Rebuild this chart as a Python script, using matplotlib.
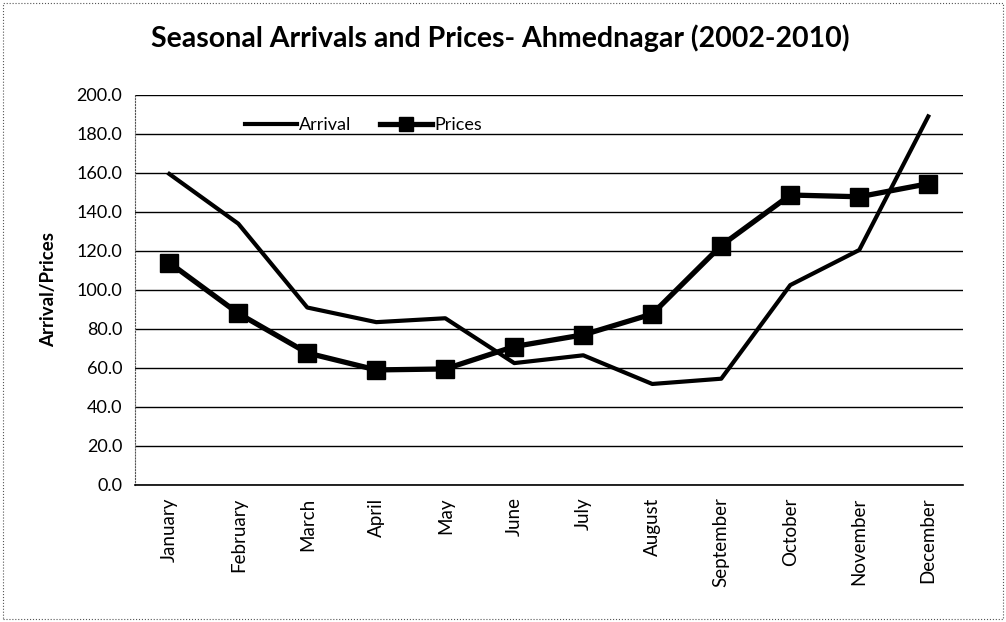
import matplotlib
matplotlib.use("Agg")
import matplotlib.pyplot as plt
from matplotlib.patches import Rectangle

months = ["January", "February", "March", "April", "May", "June", "July",
          "August", "September", "October", "November", "December"]
arrival = [159.5, 134, 91, 83.5, 85.5, 62.5, 66.5, 51.8, 54.5, 102.5, 120.5, 189]
prices = [114, 88, 67.7, 59, 59.5, 71, 77, 87.7, 122.8, 148.7, 147.8, 154.5]
yticks = [0, 20, 40, 60, 80, 100, 120, 140, 160, 180, 200]

plt.rcParams['font.family'] = ['Lato', 'DejaVu Sans']

fig = plt.figure(figsize=(10.06, 6.22), dpi=100)
ax = fig.add_axes([0.134, 0.2203, 0.823, 0.627])

x = list(range(len(months)))
ax.plot(x, arrival, color='black', lw=3.0, label='Arrival')
ax.plot(x, prices, color='black', lw=3.8, marker='s', markersize=13, label='Prices')

ax.set_xlim(-0.5, len(months) - 0.5)
ax.set_ylim(0, 200)
ax.set_yticks(yticks)
ax.set_yticklabels([f"{v:.1f}" for v in yticks], fontsize=13)
ax.set_xticks(x)
ax.set_xticklabels(months, rotation=90, fontsize=13.5)
ax.tick_params(length=0, pad=9)
ax.yaxis.grid(True, color='black', lw=1.0)
ax.set_axisbelow(True)
for s in ['top', 'right']:
    ax.spines[s].set_visible(False)
ax.spines['left'].set_linestyle(':')
ax.spines['left'].set_color('#555555')
ax.spines['left'].set_linewidth(0.8)
ax.spines['bottom'].set_linewidth(1.2)

ax.set_ylabel("Arrival/Prices", fontsize=13.5, fontweight='bold', labelpad=14)
fig.text(0.497, 0.938, "Seasonal Arrivals and Prices- Ahmednagar (2002-2010)",
         ha='center', va='center', fontsize=20.5, fontweight='bold')

leg = ax.legend(loc='upper left', bbox_to_anchor=(0.113, 0.985), ncol=2,
                frameon=False, fontsize=13, handlelength=2.9, columnspacing=1.6,
                handletextpad=0.1, markerscale=0.75)

fig.patches.append(Rectangle((0.003, 0.005), 0.994, 0.99, transform=fig.transFigure,
                             fill=False, edgecolor='#555555', lw=0.8, linestyle=':'))

fig.savefig("out.png", dpi=100)
